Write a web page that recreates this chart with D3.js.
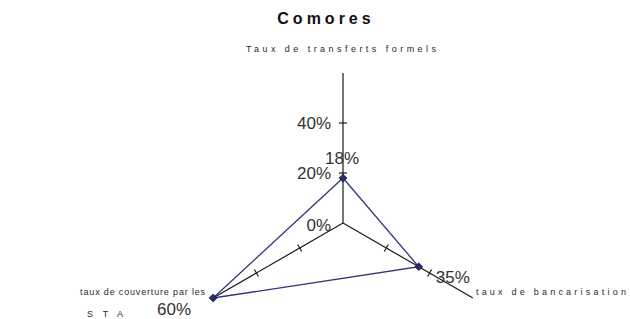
<!DOCTYPE html>
<html><head><meta charset="utf-8">
<script src="https://cdn.jsdelivr.net/npm/d3@7"></script>
<style>body{margin:0;background:#fff}svg{display:block}text{font-family:"Liberation Sans",Arial,sans-serif}</style>
</head><body>
<svg id="c" width="630" height="319"></svg>
<script>
const title = "Comores";
const axisNames = ["Taux de transferts formels", "taux de bancarisation", "taux de couverture par les|STA"];
const values = [0.18, 0.35, 0.60];
const valueLabels = ["18%", "35%", "60%"];
const tickValues = [0, 0.2, 0.4];
const tickLabels = ["0%", "20%", "40%"];

const svg = d3.select("#c");
const cx = 343, cy = 223;
const r = d3.scaleLinear().domain([0, 0.6]).range([0, 150]);
const angles = [-90, 30, 150].map(a => a * Math.PI / 180);
const pt = (i, v) => [cx + Math.cos(angles[i]) * r(v), cy + Math.sin(angles[i]) * r(v)];

svg.append("text").attr("x", 326).attr("y", 24).attr("text-anchor", "middle")
  .attr("font-size", 16).attr("font-weight", "bold").attr("letter-spacing", 4)
  .attr("fill", "#111").text(title);

// axes
angles.forEach((a, i) => {
  const [x2, y2] = pt(i, 0.6);
  svg.append("line").attr("x1", cx).attr("y1", cy).attr("x2", x2).attr("y2", y2)
    .attr("stroke", "#1a1a1a").attr("stroke-width", 1.2);
  [0.2, 0.4].forEach(t => {
    const [x, y] = pt(i, t);
    const px = -Math.sin(a) * 4, py = Math.cos(a) * 4;
    svg.append("line").attr("x1", x - px).attr("y1", y - py).attr("x2", x + px).attr("y2", y + py)
      .attr("stroke", "#1a1a1a").attr("stroke-width", 1.2);
  });
});

// tick labels on first axis
tickValues.forEach((t, k) => {
  const [x, y] = pt(0, t);
  svg.append("text").attr("x", x - 12).attr("y", y + (t === 0 ? 8 : 6)).attr("text-anchor", "end")
    .attr("font-size", 17).attr("fill", "#333").text(tickLabels[k]);
});

// data polygon
const pts = values.map((v, i) => pt(i, v));
svg.append("path").attr("d", d3.line()(pts) + "Z").attr("fill", "none")
  .attr("stroke", "#34347a").attr("stroke-width", 1.3);
pts.forEach(p => {
  svg.append("path").attr("d", d3.symbol(d3.symbolSquare, 26)())
    .attr("transform", `translate(${p[0]},${p[1]}) rotate(45)`)
    .attr("fill", "#2c2c70").attr("stroke", "#1c1c50").attr("stroke-width", 1);
});

// value labels
const vOff = [[-18, -14], [17, 16], [-56, 17]];
pts.forEach((p, i) => {
  svg.append("text").attr("x", p[0] + vOff[i][0]).attr("y", p[1] + vOff[i][1])
    .attr("font-size", 17).attr("fill", "#333").text(valueLabels[i]);
});

// axis names
const small = (x, y, anchor, s, len) => {
  svg.append("text").attr("x", x).attr("y", y).attr("text-anchor", anchor)
    .attr("font-size", 9).attr("fill", "#2a2a2a").text(s)
    .attr("textLength", len).attr("lengthAdjust", "spacing");
};
const e0 = pt(0, 0.6), e1 = pt(1, 0.6), e2 = pt(2, 0.6);
small(e0[0] - 2, e0[1] - 21, "middle", axisNames[0], 190);
small(e1[0] + 3, e1[1] - 3, "start", axisNames[1], 150);
const lp = axisNames[2].split("|");
small(e2[0] - 8, e2[1] - 3, "end", lp[0], 125);
small(e2[0] - 108, e2[1] + 19, "middle", lp[1], 36);
</script>
</body></html>
